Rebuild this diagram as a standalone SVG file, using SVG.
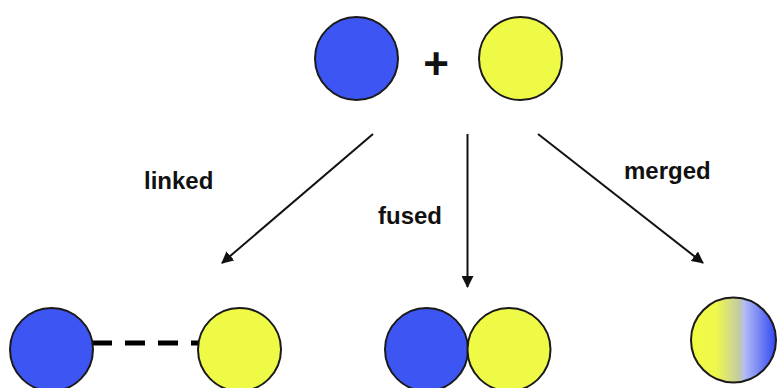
<svg xmlns="http://www.w3.org/2000/svg" width="778" height="388" viewBox="0 0 778 388">
  <style>
    .ball { stroke: #1a1a1a; stroke-width: 2; }
    .blue { fill: #3d55f2; }
    .yellow { fill: #eefa46; }
    .label { font-family: "Liberation Sans", Arial, sans-serif; font-weight: bold; font-size: 24px; fill: #111; }
    .sign { font-family: "Liberation Sans", Arial, sans-serif; font-weight: bold; font-size: 44px; fill: #111; }
    .arrow { stroke: #111; stroke-width: 2; fill: none; marker-end: url(#head); }
    .link { stroke: #000; stroke-width: 5; stroke-dasharray: 20 13; }
  </style>
  <defs>
    <marker id="head" viewBox="0 0 12 12" refX="11" refY="6" markerWidth="12" markerHeight="12" markerUnits="userSpaceOnUse" orient="auto">
      <path d="M0,0 L12,6 L0,12 Z" fill="#111"/>
    </marker>
    <linearGradient id="blend" x1="0" y1="0" x2="1" y2="0">
      <stop offset="0" stop-color="#f2fb40"/>
      <stop offset="0.3" stop-color="#eef74e"/>
      <stop offset="0.58" stop-color="#c2c8a8"/>
      <stop offset="0.62" stop-color="#b6bef6"/>
      <stop offset="1" stop-color="#3348f2"/>
    </linearGradient>
  </defs>

  <!-- starting pair -->
  <g id="start-blue"><circle class="ball blue" cx="356.5" cy="58.5" r="41.5"/></g>
  <g id="plus"><text class="sign" x="436" y="79" text-anchor="middle">+</text></g>
  <g id="start-yellow"><circle class="ball yellow" cx="520.5" cy="58.5" r="41.5"/></g>

  <!-- arrows -->
  <g id="connectors">
    <line class="arrow" x1="373" y1="134" x2="222" y2="263"/>
    <line class="arrow" x1="467.5" y1="134" x2="467.5" y2="287"/>
    <line class="arrow" x1="538" y1="134" x2="703" y2="263"/>
    <line class="link" x1="92" y1="343" x2="198" y2="343"/>
  </g>

  <g id="label-linked"><text class="label" x="144" y="189">linked</text></g>
  <g id="label-fused"><text class="label" x="378" y="224">fused</text></g>
  <g id="label-merged"><text class="label" x="624" y="179">merged</text></g>

  <!-- linked result -->
  <g id="linked-blue"><circle class="ball blue" cx="51.5" cy="349.5" r="41.5"/></g>
  <g id="linked-yellow"><circle class="ball yellow" cx="239.5" cy="349.5" r="41.5"/></g>

  <!-- fused result -->
  <g id="fused-blue"><circle class="ball blue" cx="426.5" cy="349.5" r="41.5"/></g>
  <g id="fused-yellow"><circle class="ball yellow" cx="509" cy="349.5" r="41.5"/></g>

  <!-- merged result -->
  <g id="merged"><circle class="ball" fill="url(#blend)" cx="733.5" cy="340" r="42.5"/></g>
</svg>
